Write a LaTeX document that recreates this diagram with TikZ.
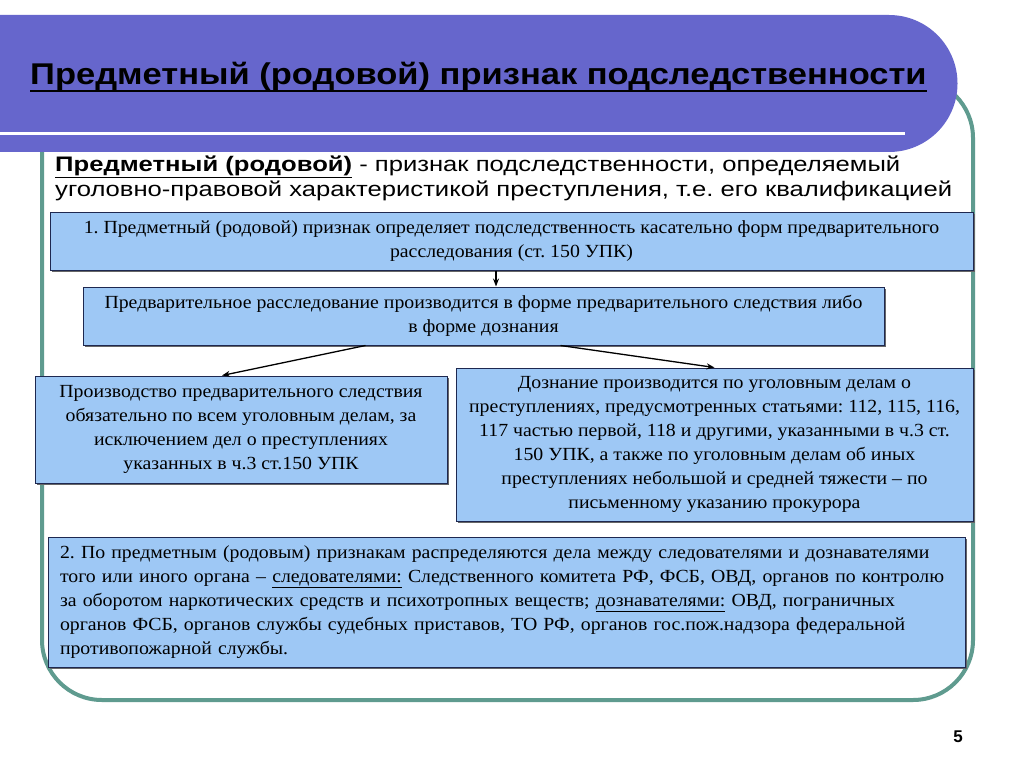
\documentclass[tikz,border=0pt]{standalone}
\usepackage{fontspec}
\setmainfont[FakeStretch=1.07]{Liberation Serif}
\newfontfamily\titlefont[FakeStretch=1.15]{Liberation Sans}
\newfontfamily\subfont[FakeStretch=1.22]{Liberation Sans}
\newfontfamily\headfont{Liberation Sans}
\frenchspacing
\usetikzlibrary{calc,arrows.meta,shadows}
\definecolor{bannerblue}{RGB}{102,102,204}
\definecolor{frameteal}{RGB}{95,155,143}
\definecolor{boxfill}{RGB}{158,200,245}
\definecolor{boxline}{RGB}{30,40,80}
\tikzset{
  box/.style={draw=boxline, fill=boxfill, line width=1pt, inner sep=0pt, align=center,
    drop shadow={shadow xshift=1.5pt, shadow yshift=-1.5pt, fill=black!60, opacity=1},
    font=\fontsize{18.5}{24}\selectfont},
  arr/.style={-{Stealth[length=8pt,width=6pt]}, line width=1.3pt}
}
\begin{document}
\begin{tikzpicture}[x=1pt,y=-1pt]
  \useasboundingbox (0,0) rectangle (1024,767);
  \fill[white] (0,0) rectangle (1024,767);
  \draw[frameteal, line width=4pt, rounded corners=60pt] (42,78) rectangle (973,700);
  \fill[bannerblue] (0,15) -- (889,15) arc (-90:90:68.5) -- (0,152) -- cycle;
  \draw[white, line width=3pt] (0,134) -- (905,134);
  \node[anchor=base west, inner sep=0pt, font=\titlefont\bfseries\fontsize{30}{34}\selectfont]
    (title) at (30,85) {Предметный (родовой) признак подследственности};
  \draw[line width=2.5pt] ([yshift=-6pt]title.base west) -- ([yshift=-6pt]title.base east);
  \node[anchor=north west, inner sep=0pt, align=left, font=\subfont\fontsize{21}{25}\selectfont]
    (sub) at (55,156) {\underline{\bfseries Предметный (родовой)} - признак подследственности, определяемый\\
    уголовно-правовой характеристикой преступления, т.е. его квалификацией};
  \node[box, minimum width=923pt, minimum height=57pt] (1) at (511.5,241.5)
    {1. Предметный (родовой) признак определяет подследственность касательно форм предварительного\\
    расследования (ст. 150 УПК)};
  \node[box, minimum width=801pt, minimum height=58pt] (2) at (483.5,316)
    {Предварительное расследование производится в форме предварительного следствия либо\\
    в форме дознания};
  \node[box, minimum width=412pt, minimum height=107pt] (3) at (241,429.5)
    {Производство предварительного следствия\\
    обязательно по всем уголовным делам, за\\
    исключением дел о преступлениях\\
    указанных в ч.3 ст.150 УПК};
  \node[box, minimum width=517pt, minimum height=153pt] (4) at (714.5,444.5)
    {Дознание производится по уголовным делам о\\
    преступлениях, предусмотренных статьями: 112, 115, 116,\\
    117 частью первой, 118 и другими, указанными в ч.3 ст.\\
    150 УПК, а также по уголовным делам об иных\\
    преступлениях небольшой и средней тяжести – по\\
    письменному указанию прокурора};
  \node[box, align=left, inner xsep=12pt, text width=893pt, minimum height=130pt] (5) at (506.5,602)
    {2. По предметным (родовым) признакам распределяются дела между следователями и дознавателями\\
    того или иного органа – \underline{следователями:} Следственного комитета РФ, ФСБ, ОВД, органов по контролю\\
    за оборотом наркотических средств и психотропных веществ; \underline{дознавателями:} ОВД, пограничных\\
    органов ФСБ, органов службы судебных приставов, ТО РФ, органов гос.пож.надзора федеральной\\
    противопожарной службы.};
  \draw[arr] ($(1.south)+(-15.5,0)$) -- ($(2.north)+(12.5,0)$);
  \draw[arr] ($(2.south)+(-118,0)$) -- ($(3.north)+(-19,0)$);
  \draw[arr] ($(2.south)+(77,0)$) -- (4.north);
  \node[font=\headfont\bfseries\fontsize{17}{20}\selectfont] (num) at (958,737) {5};
\end{tikzpicture}
\end{document}
